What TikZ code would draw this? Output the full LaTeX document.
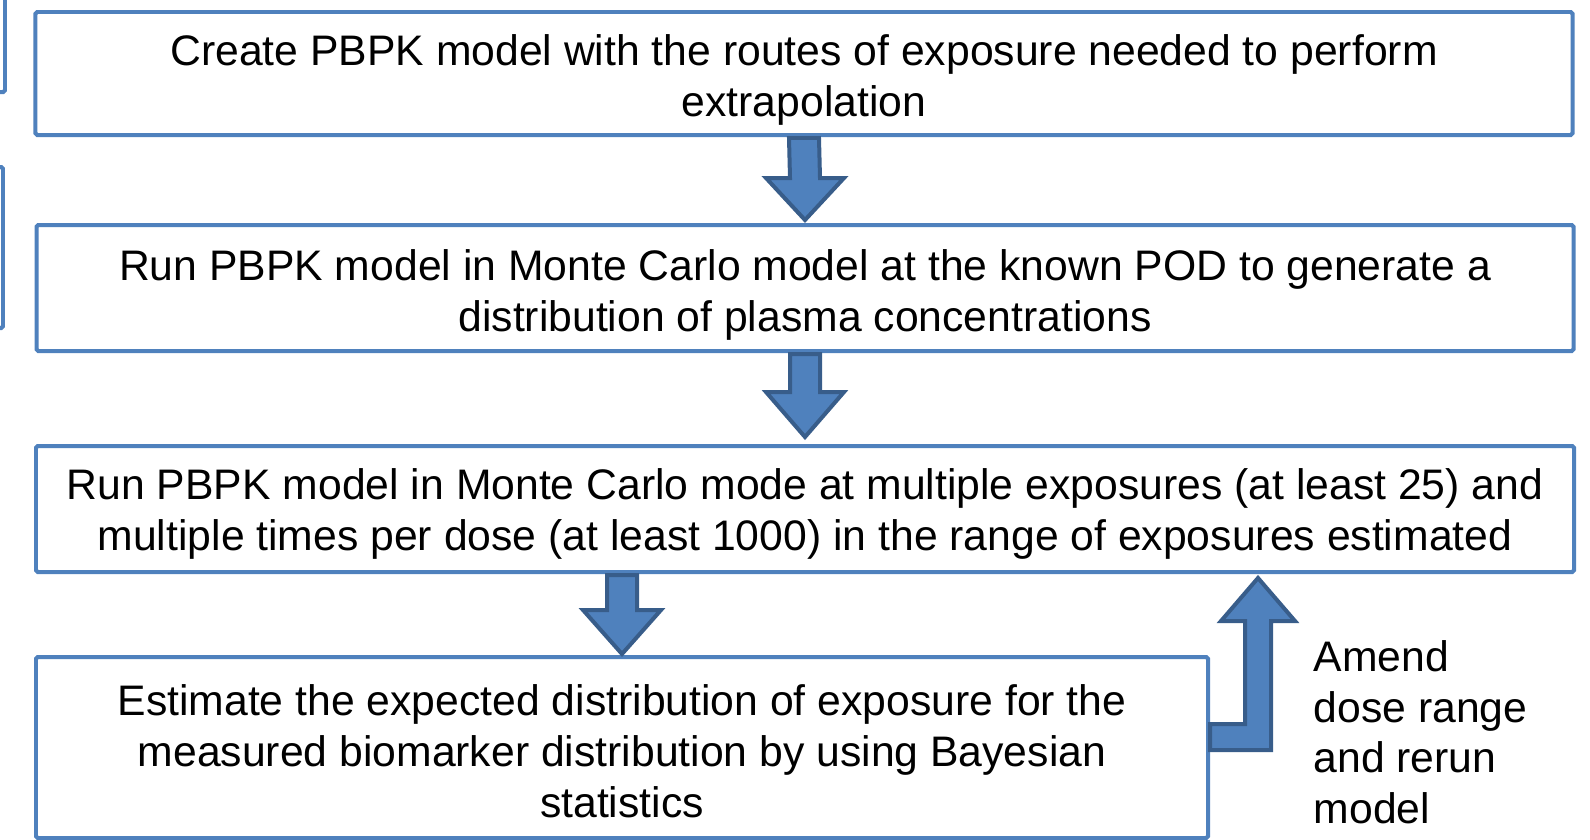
\documentclass[tikz,border=0pt]{standalone}
\usepackage{fontspec}
\setmainfont{Liberation Sans}
\usetikzlibrary{calc}
\definecolor{boxblue}{HTML}{4F81BD}
\definecolor{darkblue}{HTML}{385D8A}

\begin{document}
\begin{tikzpicture}[
  stepbox/.style={draw=boxblue, line width=0.04cm, rounded corners=0.5pt, fill=white, align=center, inner sep=0pt, font=\fontsize{12.15}{14.5}\selectfont},
  flowarrow/.style={draw=darkblue, fill=boxblue, line width=0.04cm, line join=miter},
  frag/.style={draw=boxblue, line width=0.04cm, rounded corners=0.5pt},
  note/.style={align=left, inner sep=0pt, font=\fontsize{12.15}{14.4}\selectfont}
]
\useasboundingbox (0,0) rectangle (15.9,-8.4);
\draw[frag] (0,-0.92) -- (0.05,-0.92) -- (0.05,0.1);
\draw[frag] (0,-1.67) -- (0.03,-1.67) -- (0.03,-3.28) -- (0,-3.28);
\node[stepbox, minimum width=15.37cm, minimum height=1.23cm] (b1) at (8.04,-0.735) {\rule{0pt}{0.44cm}Create PBPK model with the routes of exposure needed to perform\\extrapolation};
\node[stepbox, minimum width=15.37cm, minimum height=1.26cm] (b2) at (8.05,-2.88) {\rule{0pt}{0.447cm}Run PBPK model in Monte Carlo model at the known POD to generate a\\distribution of plasma concentrations};
\node[stepbox, minimum width=15.38cm, minimum height=1.26cm] (b3) at (8.05,-5.09) {\rule{0pt}{0.407cm}Run PBPK model in Monte Carlo mode at multiple exposures (at least 25) and\\multiple times per dose (at least 1000) in the range of exposures estimated};
\node[stepbox, minimum width=11.72cm, minimum height=1.81cm] (b4) at (6.22,-7.475) {\rule{0pt}{0.39cm}Estimate the expected distribution of exposure for the\\measured biomarker distribution by using Bayesian\\statistics};
\node[note, anchor=north west] (amend) at (13.13,-6.40) {Amend\\dose range\\and rerun\\model};
\coordinate (turn) at (12.58,-7.37);
\draw[flowarrow] ($(b1.south)+(-0.15,-0.01)$) -- ($(b2.north)+(-0.15,0.45)$) -- ($(b2.north)+(-0.39,0.45)$) -- ($(b2.north)+(0,0.03)$) -- ($(b2.north)+(0.39,0.45)$) -- ($(b2.north)+(0.15,0.45)$) -- ($(b1.south)+(0.15,-0.01)$) -- cycle;
\draw[flowarrow] ($(b2.south)+(-0.15,-0.01)$) -- ($(b3.north)+(-0.15,0.52)$) -- ($(b3.north)+(-0.39,0.52)$) -- ($(b3.north)+(0,0.07)$) -- ($(b3.north)+(0.39,0.52)$) -- ($(b3.north)+(0.15,0.52)$) -- ($(b2.south)+(0.15,-0.01)$) -- cycle;
\draw[flowarrow] ($(b3.south -| b4.north)+(-0.15,-0.01)$) -- ($(b4.north)+(-0.15,0.45)$) -- ($(b4.north)+(-0.39,0.45)$) -- ($(b4.north)+(0,0.01)$) -- ($(b4.north)+(0.39,0.45)$) -- ($(b4.north)+(0.15,0.45)$) -- ($(b3.south -| b4.north)+(0.15,-0.01)$) -- cycle;
\draw[flowarrow] ($(b4.east |- turn)+(0,0.13)$) -- ($(turn)+(-0.13,0.13)$) -- ($(turn |- b3.south)+(-0.13,-0.47)$) -- ($(turn |- b3.south)+(-0.37,-0.47)$) -- ($(turn |- b3.south)+(0,-0.04)$) -- ($(turn |- b3.south)+(0.37,-0.47)$) -- ($(turn |- b3.south)+(0.13,-0.47)$) -- ($(turn)+(0.13,-0.13)$) -- ($(b4.east |- turn)+(0,-0.13)$) -- cycle;
\end{tikzpicture}
\end{document}
